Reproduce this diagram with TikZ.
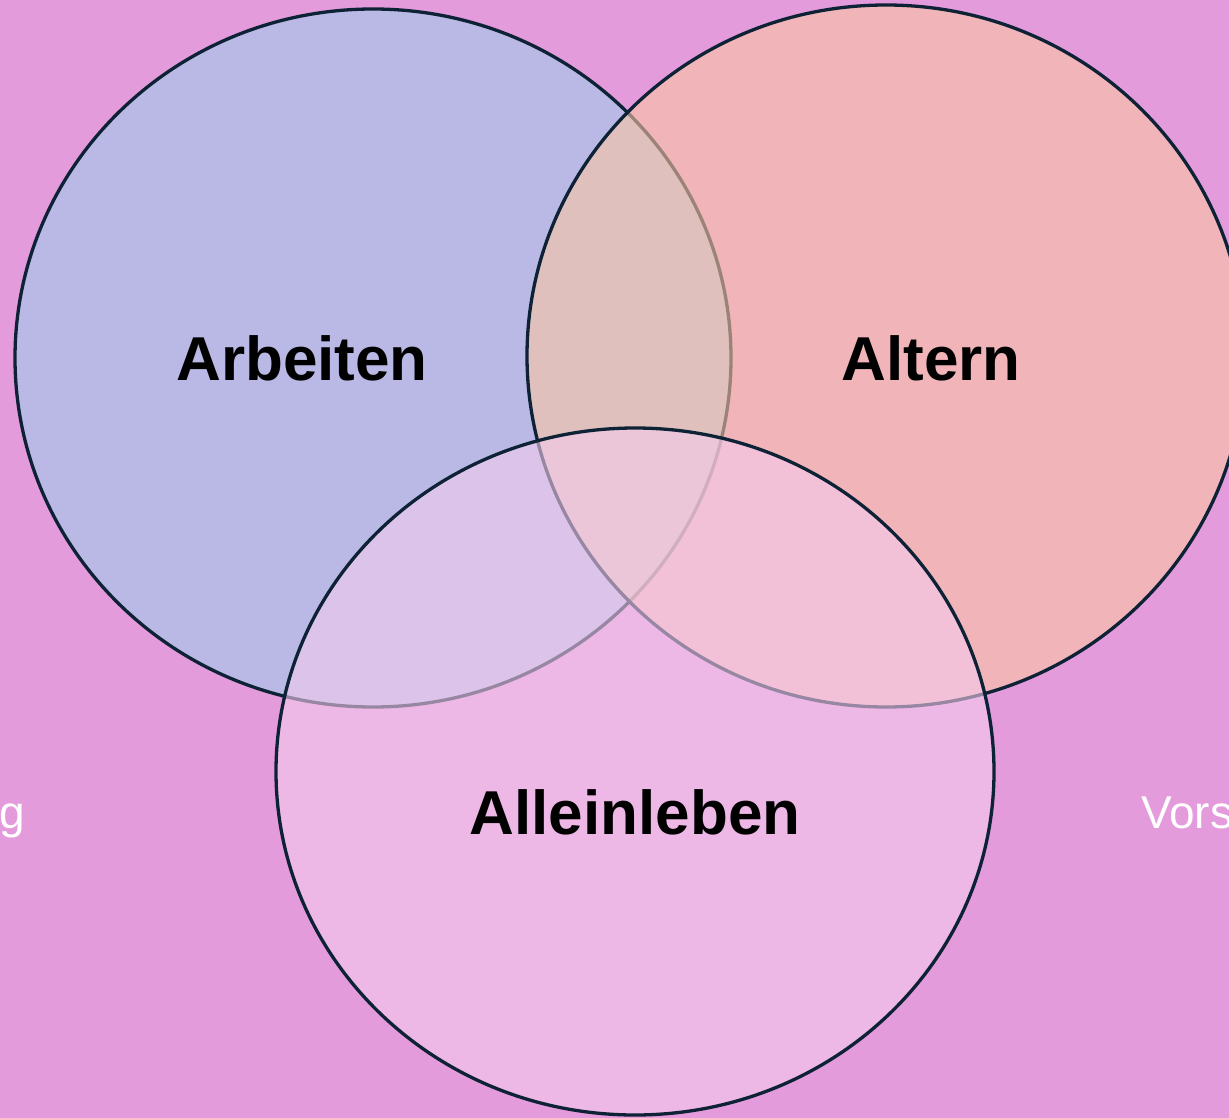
\documentclass[tikz,border=0pt]{standalone}
\usepackage{fontspec}
\setmainfont{Liberation Sans}
\usetikzlibrary{shapes.geometric}
\definecolor{bgc}{RGB}{227,155,220}
\definecolor{cone}{RGB}{159,205,238}
\definecolor{ctwo}{RGB}{249,197,163}
\definecolor{cthree}{RGB}{244,203,237}
\definecolor{rim}{RGB}{14,34,54}
\tikzset{
  venn/.style={ellipse, draw=rim, line width=3.3pt, fill opacity=0.6, inner sep=0pt, outer sep=0pt},
  lab/.style={font=\fontsize{62}{74}\selectfont\bfseries, text=black, inner sep=0pt, anchor=base},
  side/.style={font=\fontsize{46}{54}\selectfont, text=white, inner sep=0pt}
}
\begin{document}
\begin{tikzpicture}[x=1pt,y=-1pt]
\clip (0,0) rectangle (1229,1118);
\fill[bgc] (0,0) rectangle (1229,1118);
\node[side, anchor=base east] (lt) at (25,828) {g};
\node[side, anchor=base west] (rt) at (1141,828) {Vors};
\node[venn, fill=cone, minimum width=716pt, minimum height=698pt] (c1) at (373,358) {};
\node[venn, fill=ctwo, minimum width=718pt, minimum height=702pt] (c2) at (886,356) {};
\node[venn, fill=cthree, minimum width=718pt, minimum height=687pt] (c3) at (635,771.5) {};
\node[lab] (t1) at (302,380) {Arbeiten};
\node[lab] (t2) at (931,380) {Altern};
\node[lab] (t3) at (635,834) {Alleinleben};
\end{tikzpicture}
\end{document}
